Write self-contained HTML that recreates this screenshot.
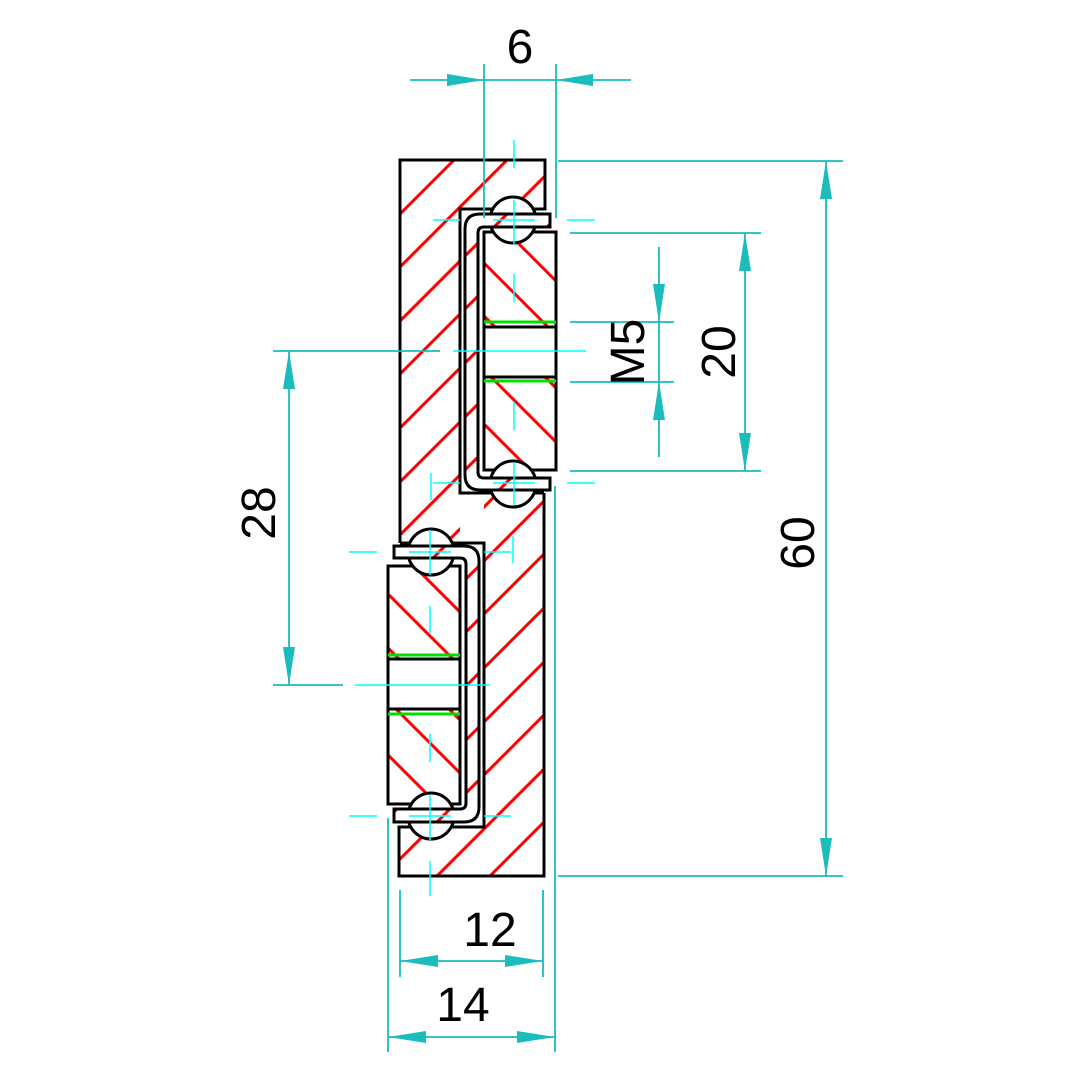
<!DOCTYPE html>
<html><head><meta charset="utf-8"><style>html,body{margin:0;padding:0;background:#fff}svg{display:block}</style></head>
<body>
<svg width="1080" height="1080" viewBox="0 0 1080 1080" xmlns="http://www.w3.org/2000/svg" font-family="Liberation Sans, sans-serif">
<defs>
<clipPath id="cUL"><polygon points="400,160 545,160 545,209 460,209 460,543 400,543"/></clipPath>
<clipPath id="cLL"><polygon points="544,876 399,876 399,827 484,827 484,493 544,493"/></clipPath>
<clipPath id="cUP"><path d="M550,214 H480 Q465,214 465,229 V475 Q465,490 480,490 H550 V478 H484 Q478,478 478,472 V233 Q478,227 484,227 H550 Z"/></clipPath>
<clipPath id="cLP"><path d="M394,822 H464 Q479,822 479,807 V561 Q479,546 464,546 H394 V558 H460 Q466,558 466,564 V803 Q466,809 460,809 H394 Z"/></clipPath>
<clipPath id="cUB"><rect x="484" y="232" width="72" height="95"/><rect x="484" y="377" width="72" height="93"/></clipPath>
<clipPath id="cLB"><rect x="388" y="566" width="72" height="93"/><rect x="388" y="709" width="72" height="95"/></clipPath>
<g id="hU" stroke="#f00" stroke-width="3">
<line x1="460" y1="100" x2="-440" y2="1000"/><line x1="514" y1="100" x2="-386" y2="1000"/><line x1="567" y1="100" x2="-333" y2="1000"/><line x1="621" y1="100" x2="-279" y2="1000"/><line x1="674" y1="100" x2="-226" y2="1000"/><line x1="728" y1="100" x2="-172" y2="1000"/><line x1="782" y1="100" x2="-118" y2="1000"/><line x1="835" y1="100" x2="-65" y2="1000"/><line x1="889" y1="100" x2="-11" y2="1000"/><line x1="943" y1="100" x2="43" y2="1000"/><line x1="996" y1="100" x2="96" y2="1000"/><line x1="1050" y1="100" x2="150" y2="1000"/>
</g>
<g id="hB" stroke="#f00" stroke-width="3">
<line x1="6" y1="0" x2="1006" y2="1000"/><line x1="60" y1="0" x2="1060" y2="1000"/><line x1="114" y1="0" x2="1114" y2="1000"/><line x1="168" y1="0" x2="1168" y2="1000"/><line x1="221" y1="0" x2="1221" y2="1000"/><line x1="275" y1="0" x2="1275" y2="1000"/><line x1="329" y1="0" x2="1329" y2="1000"/>
</g>
</defs>

<!-- hatching leaves and blocks -->
<g clip-path="url(#cUL)"><use href="#hU"/></g>
<g clip-path="url(#cLL)"><use href="#hU" transform="rotate(180 472 518)"/></g>
<g clip-path="url(#cUB)"><use href="#hB"/></g>
<g clip-path="url(#cLB)"><use href="#hB" transform="rotate(180 472 518)"/></g>

<!-- black outlines -->
<g fill="none" stroke="#000" stroke-width="3">
<path d="M400,543 V160 H545 V209 H460 V493 H544"/>
<path d="M544,493 V876 H399 V827 H484 V543 H400"/>
<rect x="484" y="232" width="72" height="238"/>
<rect x="388" y="566" width="72" height="238"/>
<line x1="484" y1="327" x2="556" y2="327"/><line x1="484" y1="377" x2="556" y2="377"/>
<line x1="388" y1="659" x2="460" y2="659"/><line x1="388" y1="709" x2="460" y2="709"/>
</g>
<g stroke="#00e000" stroke-width="3">
<line x1="484" y1="322" x2="556" y2="322"/><line x1="484" y1="381" x2="556" y2="381"/>
<line x1="388" y1="655" x2="460" y2="655"/><line x1="388" y1="714" x2="460" y2="714"/>
</g>
<!-- balls -->
<g fill="#fff" stroke="#000" stroke-width="3">
<circle cx="513" cy="220" r="23"/><circle cx="513" cy="484" r="23"/>
<circle cx="431" cy="552" r="23"/><circle cx="431" cy="816" r="23"/>
</g>
<!-- plates -->
<path d="M550,214 H480 Q465,214 465,229 V475 Q465,490 480,490 H550 V478 H484 Q478,478 478,472 V233 Q478,227 484,227 H550 Z" fill="#fff"/>
<path d="M394,822 H464 Q479,822 479,807 V561 Q479,546 464,546 H394 V558 H460 Q466,558 466,564 V803 Q466,809 460,809 H394 Z" fill="#fff"/>
<g clip-path="url(#cUP)"><use href="#hU"/></g>
<g clip-path="url(#cLP)"><use href="#hU" transform="rotate(180 472 518)"/></g>
<g fill="none" stroke="#000" stroke-width="3">
<path d="M550,214 H480 Q465,214 465,229 V475 Q465,490 480,490 H550 V478 H484 Q478,478 478,472 V233 Q478,227 484,227 H550 Z"/>
<path d="M394,822 H464 Q479,822 479,807 V561 Q479,546 464,546 H394 V558 H460 Q466,558 466,564 V803 Q466,809 460,809 H394 Z"/>
</g>

<!-- center lines -->
<g stroke="#00ffff" stroke-width="1.5">
<line x1="514" y1="140" x2="514" y2="168"/><line x1="514" y1="200" x2="514" y2="245"/>
<line x1="433" y1="220" x2="460" y2="220"/><line x1="493" y1="220" x2="535" y2="220"/><line x1="567" y1="220" x2="595" y2="220"/>
<line x1="514" y1="274" x2="514" y2="302"/><line x1="514" y1="402" x2="514" y2="430"/>
<line x1="514" y1="462" x2="514" y2="505"/>
<line x1="433" y1="483" x2="460" y2="483"/><line x1="493" y1="483" x2="535" y2="483"/><line x1="567" y1="483" x2="595" y2="483"/>
<line x1="431" y1="473" x2="431" y2="500"/>
<line x1="453" y1="351" x2="586" y2="351"/>
<line x1="355" y1="685" x2="490" y2="685"/>
<line x1="430" y1="530" x2="430" y2="575"/>
<line x1="349" y1="552" x2="377" y2="552"/><line x1="409" y1="552" x2="451" y2="552"/><line x1="484" y1="552" x2="511" y2="552"/>
<line x1="513" y1="536" x2="513" y2="563"/>
<line x1="430" y1="606" x2="430" y2="634"/><line x1="430" y1="734" x2="430" y2="762"/>
<line x1="430" y1="795" x2="430" y2="840"/>
<line x1="349" y1="816" x2="377" y2="816"/><line x1="409" y1="816" x2="451" y2="816"/><line x1="484" y1="816" x2="511" y2="816"/>
<line x1="430" y1="861" x2="430" y2="896"/>
</g>

<!-- dimensions -->
<g stroke="#1abcbc" stroke-width="1.8" fill="none">
<line x1="484" y1="64" x2="484" y2="218"/><line x1="556" y1="64" x2="556" y2="218"/>
<line x1="410" y1="80" x2="631" y2="80"/>
<line x1="558" y1="161" x2="843" y2="161"/><line x1="558" y1="876" x2="843" y2="876"/>
<line x1="826" y1="161" x2="826" y2="876"/>
<line x1="570" y1="233" x2="761" y2="233"/><line x1="570" y1="471" x2="761" y2="471"/>
<line x1="745" y1="233" x2="745" y2="471"/>
<line x1="570" y1="322" x2="674" y2="322"/><line x1="570" y1="382" x2="674" y2="382"/>
<line x1="659" y1="247" x2="659" y2="457"/>
<line x1="273" y1="351" x2="440" y2="351"/><line x1="273" y1="685" x2="343" y2="685"/>
<line x1="289" y1="351" x2="289" y2="685"/>
<line x1="400" y1="890" x2="400" y2="977"/><line x1="543" y1="890" x2="543" y2="977"/>
<line x1="400" y1="961" x2="543" y2="961"/>
<line x1="388" y1="818" x2="388" y2="1052"/><line x1="555" y1="486" x2="555" y2="1052"/>
<line x1="388" y1="1037" x2="555" y2="1037"/>
</g>
<g fill="#1abcbc">
<polygon points="484,80 447,74 447,86"/><polygon points="556,80 593,74 593,86"/>
<polygon points="826,161 820,199 832,199"/><polygon points="826,876 820,838 832,838"/>
<polygon points="745,233 739,271 751,271"/><polygon points="745,471 739,433 751,433"/>
<polygon points="659,322 653,284 665,284"/><polygon points="659,382 653,420 665,420"/>
<polygon points="289,351 283,389 295,389"/><polygon points="289,685 283,647 295,647"/>
<polygon points="400,961 438,955 438,967"/><polygon points="543,961 505,955 505,967"/>
<polygon points="388,1037 426,1031 426,1043"/><polygon points="555,1037 517,1031 517,1043"/>
</g>
<g fill="#000" font-size="48" text-anchor="middle">
<text x="520" y="63">6</text>
<text x="490" y="946">12</text>
<text x="463" y="1021">14</text>
<text transform="translate(814,543) rotate(-90)">60</text>
<text transform="translate(735,352) rotate(-90)">20</text>
<text transform="translate(644,352) rotate(-90)">M5</text>
<text transform="translate(275,513) rotate(-90)">28</text>
</g>
</svg>
</body></html>
